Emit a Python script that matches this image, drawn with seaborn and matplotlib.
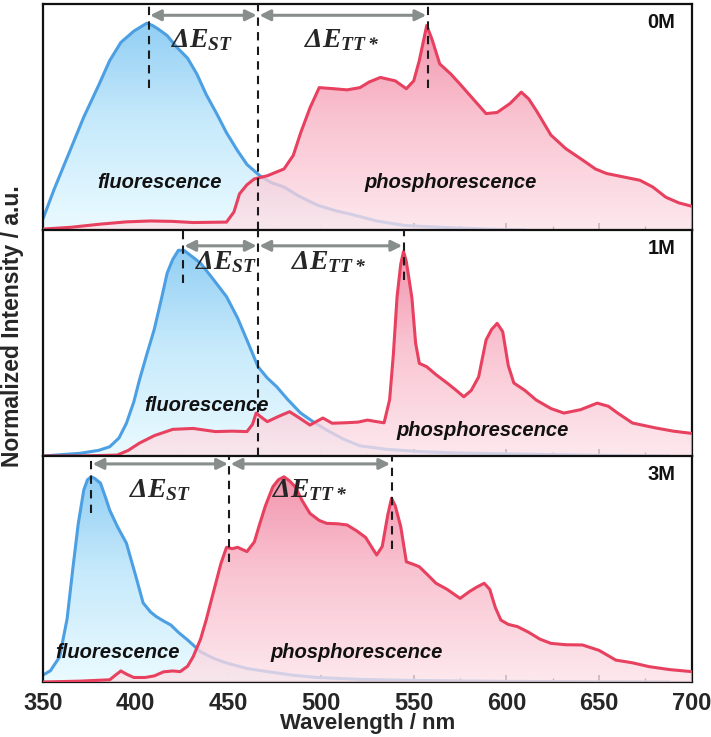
import numpy as np
import matplotlib
matplotlib.use("Agg")
import matplotlib.pyplot as plt
import seaborn as sns
from matplotlib.colors import LinearSegmentedColormap
from matplotlib.patches import Polygon
from matplotlib.ticker import MultipleLocator

# =========================================================
#  Spectra (wavelength nm, normalized intensity)
# =========================================================
fl_0M_x = [350, 356, 363, 372, 380, 386, 392, 399, 403, 406, 409, 412, 417, 422, 428, 433, 438, 444, 449,
           455, 460, 467, 473, 480, 488, 498, 508, 516, 530, 545, 570, 590, 610]
fl_0M_y = [0.05, 0.18, 0.32, 0.50, 0.64, 0.75, 0.83, 0.88, 0.90, 0.915, 0.905, 0.89, 0.86, 0.81, 0.76, 0.69,
           0.60, 0.51, 0.43, 0.35, 0.29, 0.24, 0.21, 0.19, 0.15, 0.11, 0.085, 0.07, 0.04, 0.02, 0.01,
           0.004, 0.0]
ph_0M_x = [350, 365, 381, 395, 408, 420, 431, 449, 453, 456, 460, 464, 471, 480, 485, 489, 494, 499, 507,
           514, 521, 526, 532, 540, 546, 550, 553, 557, 560, 564, 570, 575, 582, 589, 595, 602, 608, 612,
           616, 624, 632, 641, 648, 654, 663, 672, 679, 686, 693, 700]
ph_0M_y = [0.004, 0.012, 0.026, 0.036, 0.04, 0.038, 0.033, 0.035, 0.08, 0.16, 0.2, 0.226, 0.24, 0.27, 0.33,
           0.43, 0.54, 0.63, 0.625, 0.62, 0.63, 0.655, 0.675, 0.66, 0.625, 0.66, 0.75, 0.905, 0.84, 0.735,
           0.69, 0.645, 0.58, 0.515, 0.52, 0.56, 0.61, 0.58, 0.53, 0.42, 0.36, 0.31, 0.27, 0.25, 0.235, 0.22,
           0.19, 0.145, 0.12, 0.105]

fl_1M_x = [350, 370, 380, 386, 391, 395, 399, 402, 406, 410, 414, 417, 420, 423, 426, 430, 435, 442, 449,
           455, 460, 466, 471, 476, 482, 489, 496, 503, 512, 521, 535, 552, 570, 605, 640, 688]
fl_1M_y = [0.0, 0.012, 0.025, 0.041, 0.08, 0.145, 0.24, 0.336, 0.45, 0.56, 0.70, 0.81, 0.87, 0.91, 0.91,
           0.885, 0.853, 0.78, 0.705, 0.61, 0.513, 0.395, 0.345, 0.307, 0.25, 0.19, 0.15, 0.115, 0.075, 0.045,
           0.03, 0.02, 0.014, 0.009, 0.004, 0.0]
ph_1M_x = [350, 370, 390, 396, 402, 410, 420, 431, 443, 452, 460, 463, 465, 468, 471, 477, 483, 488, 494,
           498, 501, 506, 513, 520, 525, 530, 534, 537, 539, 541, 543, 544.5, 546, 549, 551, 553, 557, 562,
           568, 573, 577, 581, 585, 589, 592, 595, 598, 601, 604, 610, 616, 624, 631, 640, 649, 655, 660,
           668, 680, 690, 700]
ph_1M_y = [0.0, 0.0, 0.004, 0.025, 0.057, 0.09, 0.118, 0.122, 0.108, 0.11, 0.108, 0.14, 0.19, 0.17, 0.152,
           0.175, 0.196, 0.17, 0.137, 0.155, 0.168, 0.145, 0.147, 0.15, 0.159, 0.152, 0.147, 0.25, 0.45,
           0.705, 0.85, 0.905, 0.86, 0.70, 0.50, 0.41, 0.395, 0.36, 0.323, 0.29, 0.262, 0.29, 0.35, 0.513,
           0.56, 0.587, 0.55, 0.40, 0.323, 0.29, 0.248, 0.21, 0.19, 0.205, 0.234, 0.22, 0.19, 0.146, 0.125,
           0.11, 0.1]

fl_3M_x = [350, 354, 359, 363, 366, 369, 372, 374, 376, 378, 381, 384, 386, 390, 395, 400, 404, 408, 411,
           415, 419, 423, 428, 435, 442, 449, 460, 471, 485, 498, 520, 550, 600, 650, 688]
fl_3M_y = [0.031, 0.05, 0.112, 0.28, 0.496, 0.70, 0.85, 0.895, 0.908, 0.90, 0.88, 0.81, 0.76, 0.69, 0.614,
           0.47, 0.35, 0.31, 0.29, 0.27, 0.252, 0.22, 0.186, 0.134, 0.105, 0.084, 0.06, 0.046, 0.03, 0.02,
           0.012, 0.007, 0.003, 0.001, 0.0]
ph_3M_x = [350, 370, 386, 389, 392, 395, 399, 405, 410, 415, 420, 424, 428, 431, 435, 438, 442, 446, 449,
           452, 455, 460, 464, 467, 470, 474, 477, 480, 483, 486, 490, 494, 499, 503, 509, 514, 519, 524,
           530, 533, 536, 538, 540, 543, 546, 550, 553, 558, 562, 568, 575, 580, 584, 588, 591, 594, 597,
           601, 606, 612, 618, 624, 632, 641, 650, 659, 668, 677, 688, 700]
ph_3M_y = [0.0, 0.004, 0.01, 0.03, 0.049, 0.035, 0.02, 0.02, 0.027, 0.045, 0.049, 0.046, 0.07, 0.112, 0.19,
           0.274, 0.40, 0.525, 0.596, 0.59, 0.596, 0.577, 0.62, 0.702, 0.78, 0.864, 0.895, 0.908, 0.89,
           0.864, 0.80, 0.746, 0.715, 0.702, 0.70, 0.695, 0.67, 0.64, 0.562, 0.60, 0.74, 0.813, 0.78, 0.687,
           0.532, 0.52, 0.51, 0.47, 0.437, 0.41, 0.37, 0.40, 0.42, 0.437, 0.41, 0.33, 0.274, 0.255, 0.245,
           0.22, 0.19, 0.171, 0.165, 0.164, 0.14, 0.097, 0.085, 0.068, 0.055, 0.046]

panel_labels = ['0M', '1M', '3M']
fl_x = [fl_0M_x, fl_1M_x, fl_3M_x]
fl_y = [fl_0M_y, fl_1M_y, fl_3M_y]
ph_x = [ph_0M_x, ph_1M_x, ph_3M_x]
ph_y = [ph_0M_y, ph_1M_y, ph_3M_y]

# peak positions / onset points marked by the dashed lines (nm)
s1_peak = [407, 425.5, 376]
t1_edge = [466, 466, 450.5]
t1_peak = [557.5, 544.5, 538]

# =========================================================
#  Styling
# =========================================================
sns.set_theme(style="white")
plt.rcParams['font.family'] = ['Liberation Sans', 'DejaVu Sans']
plt.rcParams['mathtext.fontset'] = 'custom'
plt.rcParams['mathtext.it'] = 'Liberation Serif:italic:bold'
plt.rcParams['mathtext.rm'] = 'Liberation Serif:italic:bold'
plt.rcParams['mathtext.default'] = 'it'

blue_line = '#4d9fe3'
red_line = '#e8405f'
blue_cmap = LinearSegmentedColormap.from_list('bl', ['#eafbff', '#c2e8fb', '#80c6f2'])
red_cmap = LinearSegmentedColormap.from_list('rd', ['#fde2e9', '#f8b2c4', '#ec6a8d'])
arrow_c = '#878e8c'

# per-panel text placement (x nm, y fraction)
est_pos = [(436, 0.84), (449, 0.86), (413, 0.85)]
ett_pos = [(511, 0.84), (504, 0.86), (494, 0.85)]
arrow_y = [0.95, 0.93, 0.965]
fluo_pos = [(413, 0.21), (438, 0.225), (390, 0.13)]
phos_pos = [(570, 0.21), (587, 0.115), (519, 0.13)]
s1_bottom = [0.63, 0.765, 0.75]
tpk_bottom = [0.63, 0.78, 0.59]
t1_bottom = [0.0, 0.0, 0.53]


def gradient_fill(ax, x, y, cmap, alpha, z):
    x = np.asarray(x, float)
    y = np.asarray(y, float)
    verts = np.vstack([np.column_stack([x, y]), [[x[-1], 0], [x[0], 0]]])
    poly = Polygon(verts, closed=True, facecolor='none', edgecolor='none', transform=ax.transData)
    ax.add_patch(poly)
    img = ax.imshow(np.linspace(0, 1, 256).reshape(-1, 1), cmap=cmap, aspect='auto',
                    extent=[350, 700, 0, 1], origin='lower', alpha=alpha, zorder=z,
                    interpolation='bilinear')
    img.set_clip_path(poly)


fig, axes = plt.subplots(3, 1, figsize=(7.11, 7.37), dpi=100, sharex=True)
fig.subplots_adjust(left=0.0605, right=0.973, top=0.9946, bottom=0.0746, hspace=0)

for i, ax in enumerate(axes):
    gradient_fill(ax, fl_x[i], fl_y[i], blue_cmap, 0.95, 1)
    sns.lineplot(x=fl_x[i], y=fl_y[i], ax=ax, color=blue_line, lw=2.2, zorder=2, sort=False)
    gradient_fill(ax, ph_x[i], ph_y[i], red_cmap, 0.78, 3)
    sns.lineplot(x=ph_x[i], y=ph_y[i], ax=ax, color=red_line, lw=2.2, zorder=4, sort=False)

    # dashed guide lines
    ax.vlines(s1_peak[i], s1_bottom[i], 1, colors='k', linestyles=(0, (4, 3)), lw=1.5, zorder=5)
    ax.vlines(t1_edge[i], t1_bottom[i], 1, colors='k', linestyles=(0, (4, 3)), lw=1.5, zorder=5)
    ax.vlines(t1_peak[i], tpk_bottom[i], 1, colors='k', linestyles=(0, (4, 3)), lw=1.5, zorder=5)

    # energy-gap arrows
    for a, b in [(s1_peak[i], t1_edge[i]), (t1_edge[i], t1_peak[i])]:
        ax.annotate('', xy=(b, arrow_y[i]), xytext=(a, arrow_y[i]),
                    arrowprops=dict(arrowstyle='<|-|>', color=arrow_c, lw=2.2,
                                    mutation_scale=16, shrinkA=1, shrinkB=1), zorder=6)

    ax.text(*est_pos[i], r'$\Delta E_{ST}$', fontsize=20, ha='center', va='center', zorder=7)
    ax.text(*ett_pos[i], r'$\Delta E_{TT*}$', fontsize=20, ha='center', va='center', zorder=7)
    ax.text(*fluo_pos[i], 'fluorescence', fontsize=14.5, fontweight='bold', style='italic',
            ha='center', va='center', color='#111111', zorder=7)
    ax.text(*phos_pos[i], 'phosphorescence', fontsize=14.5, fontweight='bold', style='italic',
            ha='center', va='center', color='#111111', zorder=7)
    ax.text(0.975, 0.92, panel_labels[i], transform=ax.transAxes, fontsize=14.5, fontweight='bold',
            ha='right', va='center', color='#111111')

    ax.set_xlim(350, 700)
    ax.set_ylim(0, 1.0)
    ax.set_yticks([])
    ax.set_xlabel('')
    ax.set_ylabel('')
    ax.xaxis.set_major_locator(MultipleLocator(50))
    ax.xaxis.set_minor_locator(MultipleLocator(25))
    ax.tick_params(axis='x', which='both', direction='in', bottom=True, top=False, color='#222222')
    ax.tick_params(axis='x', which='major', length=5, width=1.2)
    ax.tick_params(axis='x', which='minor', length=3, width=1)
    for sp in ax.spines.values():
        sp.set_color('#111111')
        sp.set_linewidth(1.6)

axes[-1].tick_params(axis='x', which='major', labelsize=17, pad=7)
for lab in axes[-1].get_xticklabels():
    lab.set_fontweight('bold')
axes[-1].set_xlabel('Wavelength / nm', fontsize=16, fontweight='bold', labelpad=-1)
fig.text(0.018, 0.557, 'Normalized Intensity / a.u.', rotation=90, fontsize=16.5,
         fontweight='bold', ha='center', va='center')

plt.savefig('out.png', dpi=100)
